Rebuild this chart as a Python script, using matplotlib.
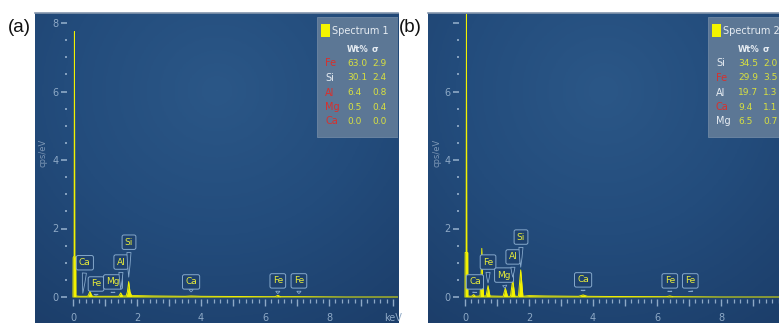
import numpy as np
import matplotlib
matplotlib.use('Agg')
import matplotlib.pyplot as plt
from matplotlib.ticker import FixedLocator, FuncFormatter
from matplotlib.colors import LinearSegmentedColormap

# ---------------- data ----------------
# Spectrum 1 (panel a): energy (keV) / intensity (cps/eV)
energy_a = [0.00, 0.005, 0.035, 0.045, 0.055, 0.085, 0.09, 0.20, 0.45, 0.48, 0.53, 0.58, 0.62,
            1.20, 1.43, 1.49, 1.55, 1.66, 1.70, 1.74, 1.78, 1.83, 2.0, 2.5, 3.0, 3.5,
            3.69, 4.0, 5.0, 6.0, 6.32, 6.40, 6.48, 7.0, 8.5, 10.5]
counts_a = [0.00, 1.15, 1.20, 7.75, 1.20, 1.15, 0.03, 0.02, 0.02, 0.05, 0.17, 0.05, 0.02,
            0.02, 0.02, 0.12, 0.03, 0.03, 0.15, 0.45, 0.15, 0.04, 0.04, 0.03, 0.025, 0.02,
            0.03, 0.02, 0.015, 0.01, 0.01, 0.05, 0.01, 0.01, 0.0, 0.0]

# Spectrum 2 (panel b)
energy_b = [0.00, 0.005, 0.035, 0.045, 0.055, 0.085, 0.09, 0.20, 0.27, 0.33, 0.47, 0.505, 0.525,
            0.545, 0.58, 0.66, 0.72, 0.78, 1.19, 1.26, 1.33, 1.42, 1.49, 1.56, 1.67, 1.74,
            1.81, 2.0, 2.5, 3.0, 3.55, 3.69, 3.83, 4.5, 6.3, 6.40, 6.5, 8.0, 10.5]
counts_b = [0.00, 1.30, 1.30, 8.25, 1.30, 1.30, 0.03, 0.02, 0.07, 0.02, 0.03, 0.70, 1.42,
            0.70, 0.03, 0.03, 0.33, 0.03, 0.02, 0.26, 0.02, 0.02, 0.50, 0.02, 0.02, 0.79,
            0.02, 0.04, 0.03, 0.025, 0.02, 0.06, 0.02, 0.015, 0.01, 0.03, 0.01, 0.0, 0.0]

# peak labels: element, peak energy
labels_a = ['Ca', 'Fe', 'Mg', 'Al', 'Si', 'Ca', 'Fe', 'Fe']
label_e_a = [0.30, 0.72, 1.25, 1.49, 1.74, 3.69, 6.40, 7.06]
labels_b = ['Ca', 'Fe', 'Mg', 'Al', 'Si', 'Ca', 'Fe', 'Fe']
label_e_b = [0.30, 0.72, 1.25, 1.49, 1.74, 3.69, 6.40, 7.06]

# quantification tables
spec_names = ['Spectrum 1', 'Spectrum 2']
elem_a = ['Fe', 'Si', 'Al', 'Mg', 'Ca']
wt_a = ['63.0', '30.1', '6.4', '0.5', '0.0']
sig_a = ['2.9', '2.4', '0.8', '0.4', '0.0']
elem_b = ['Si', 'Fe', 'Al', 'Ca', 'Mg']
wt_b = ['34.5', '29.9', '19.7', '9.4', '6.5']
sig_b = ['2.0', '3.5', '1.3', '1.1', '0.7']

# axis ticks
x_major = [0, 1, 2, 3, 4, 5, 6, 7, 8, 9, 10]
x_minor = list(np.round(np.arange(0, 10.01, 0.2), 2))
y_major = [0, 2, 4, 6, 8]
y_minor = [0.5, 1, 1.5, 2.5, 3, 3.5, 4.5, 5, 5.5, 6.5, 7, 7.5]

# ---------------- layout / style ----------------
W, H = 779, 323
TOP, BOT = 13, 323
XSCALE, YSCALE, Y0PX = 32.0, 34.25, 297.0
YELLOW = '#f2f200'
TICKC = '#8ea9c6'
BOXEDGE = '#86a9cc'
BOXFACE = '#1e416e'
VALC = '#d8e040'
RED = '#d8302c'
WHITE = '#e6ecf2'
plt.rcParams['font.family'] = ['Liberation Sans Narrow', 'DejaVu Sans']

fig = plt.figure(figsize=(W / 100, H / 100), dpi=100)
fig.patch.set_facecolor('white')

bg_cmap = LinearSegmentedColormap.from_list('bg', ['#1c3e6a', '#234c7c', '#2b5787'])
yy, xx = np.mgrid[0:1:200j, 0:1:200j]
dist = np.sqrt(((xx - 0.5) / 0.9) ** 2 + ((yy - 0.25) / 1.0) ** 2)
bg = 1 - np.clip(dist, 0, 1)


def build_panel(left, right, x0px, energy, counts, labels, label_e, box_xy, pointer_y,
                name, elems, wts, sigs, elem_red, box_left, panel_tag, tag_x, show8):
    ax = fig.add_axes([left / W, 1 - BOT / H, (right - left) / W, (BOT - TOP) / H])
    ax.set_xlim((left - x0px) / XSCALE, (right - x0px) / XSCALE)
    ax.set_ylim((Y0PX - BOT) / YSCALE, (Y0PX - TOP) / YSCALE)
    ax.imshow(bg, extent=[0, 1, 0, 1], transform=ax.transAxes, cmap=bg_cmap,
              aspect='auto', origin='upper', zorder=0)
    ax.set_facecolor(BOXFACE)

    # spectrum
    ax.fill_between(energy, counts, 0, color=YELLOW, lw=0, zorder=2)
    ax.plot(energy, counts, color=YELLOW, lw=0.7, zorder=2)

    # spines / ticks
    for s in ['right', 'left', 'bottom']:
        ax.spines[s].set_color('none')
    ax.spines['top'].set_color('#8496ad')
    ax.spines['top'].set_linewidth(1.2)
    ax.spines['bottom'].set_position(('data', -0.05))
    ax.spines['left'].set_position(('data', -0.2))
    ax.xaxis.set_major_locator(FixedLocator(x_major))
    ax.xaxis.set_minor_locator(FixedLocator(x_minor))
    ax.xaxis.set_major_formatter(FuncFormatter(
        lambda v, p: 'keV' if abs(v - 10) < 1e-6 else (f'{int(round(v))}' if int(round(v)) % 2 == 0 else '')))
    ax.yaxis.set_major_locator(FixedLocator(y_major))
    ax.yaxis.set_minor_locator(FixedLocator(y_minor))
    ax.yaxis.set_major_formatter(FuncFormatter(
        lambda v, p: '' if (abs(v - 8) < 1e-6 and not show8) else f'{int(round(v))}'))
    ax.tick_params(axis='x', which='major', length=5, width=1.0, color=TICKC, direction='out',
                   labelsize=7, labelcolor=TICKC, pad=5)
    ax.tick_params(axis='x', which='minor', length=3.2, width=0.9, color=TICKC, direction='out')
    ax.tick_params(axis='y', which='major', length=4, width=1.2, color=TICKC, direction='out',
                   labelsize=7, labelcolor=TICKC, pad=1.5)
    ax.tick_params(axis='y', which='minor', length=1.6, width=1.3, color=TICKC, direction='out')

    def axc(xp, yp):
        return ((xp - left) / (right - left), 1 - (yp - TOP) / (BOT - TOP))

    ax.text(*axc(left + 8.5, 153), 'cps/eV', transform=ax.transAxes, rotation=90,
            ha='center', va='center', fontsize=6, color='#7d97b5')

    # peak label callouts
    for lab, e, (bx, by), py in zip(labels, label_e, box_xy, pointer_y):
        ax.annotate(lab, xy=(e, py), xytext=(bx, by), textcoords='data',
                    ha='center', va='center', fontsize=6.5, color='#e8ec3a', zorder=5,
                    bbox=dict(boxstyle='round,pad=0.3,rounding_size=0.2', fc=BOXFACE,
                              ec=BOXEDGE, lw=0.7),
                    arrowprops=dict(arrowstyle='wedge,tail_width=0.45,shrink_factor=0.6',
                                    fc=BOXFACE, ec=BOXEDGE, lw=0.6, relpos=(0.5, 0.0)))

    # quantification box
    x0, y0 = axc(box_left, 137)
    x1, y1 = axc(right + 2, 17)
    ax.add_patch(plt.Rectangle((x0, y0), x1 - x0, y1 - y0, transform=ax.transAxes,
                               fc='#5c7795', ec='#6f88a4', lw=0.6, zorder=6, clip_on=True))
    sx, sy = axc(box_left + 4, 37)
    sx2, sy2 = axc(box_left + 13, 24)
    ax.add_patch(plt.Rectangle((sx, sy), sx2 - sx, sy2 - sy, transform=ax.transAxes,
                               fc='#f4f400', ec='none', zorder=7))
    ax.text(*axc(box_left + 15, 31), name, transform=ax.transAxes, fontsize=7,
            color=WHITE, ha='left', va='center', zorder=7)
    ax.text(*axc(box_left + 30, 49), 'Wt%', transform=ax.transAxes, fontsize=6,
            color=WHITE, ha='left', va='center', fontweight='bold', zorder=7)
    ax.text(*axc(box_left + 55, 49), 'σ', transform=ax.transAxes, fontsize=6,
            color=WHITE, ha='left', va='center', fontweight='bold', zorder=7)
    for i, (el, wv, sv) in enumerate(zip(elems, wts, sigs)):
        yp = 63.5 + 14.5 * i
        ax.text(*axc(box_left + 8, yp), el, transform=ax.transAxes, fontsize=7,
                color=RED if el in elem_red else WHITE, ha='left', va='center', zorder=7)
        ax.text(*axc(box_left + 30, yp), wv, transform=ax.transAxes, fontsize=6.5,
                color=VALC, ha='left', va='center', zorder=7)
        ax.text(*axc(box_left + 55, yp), sv, transform=ax.transAxes, fontsize=6.5,
                color=VALC, ha='left', va='center', zorder=7)

    fig.text(tag_x / W, 1 - 27 / H, panel_tag, fontsize=13.5, ha='left', va='center',
             color='#111111', family=['Liberation Sans', 'DejaVu Sans'])
    return ax


build_panel(35, 398, 73, energy_a, counts_a, labels_a, label_e_a,
            [(0.37, 1.00), (0.72, 0.38), (1.25, 0.44), (1.50, 1.02), (1.75, 1.60),
             (3.69, 0.44), (6.40, 0.47), (7.06, 0.47)],
            [0.03, 0.05, 0.05, 0.15, 0.5, 0.15, 0.1, 0.1],
            spec_names[0], elem_a, wt_a, sig_a, ['Fe', 'Al', 'Mg', 'Ca'], 317, '(a)', 8, True)
build_panel(428, 779, 465, energy_b, counts_b, labels_b, label_e_b,
            [(0.31, 0.44), (0.72, 1.02), (1.22, 0.64), (1.50, 1.17), (1.75, 1.75),
             (3.69, 0.50), (6.40, 0.47), (7.04, 0.47)],
            [0.05, 0.33, 0.26, 0.5, 0.79, 0.1, 0.08, 0.08],
            spec_names[1], elem_b, wt_b, sig_b, ['Fe', 'Ca'], 708, '(b)', 399, False)

fig.savefig('out.png', dpi=100, facecolor='white')
